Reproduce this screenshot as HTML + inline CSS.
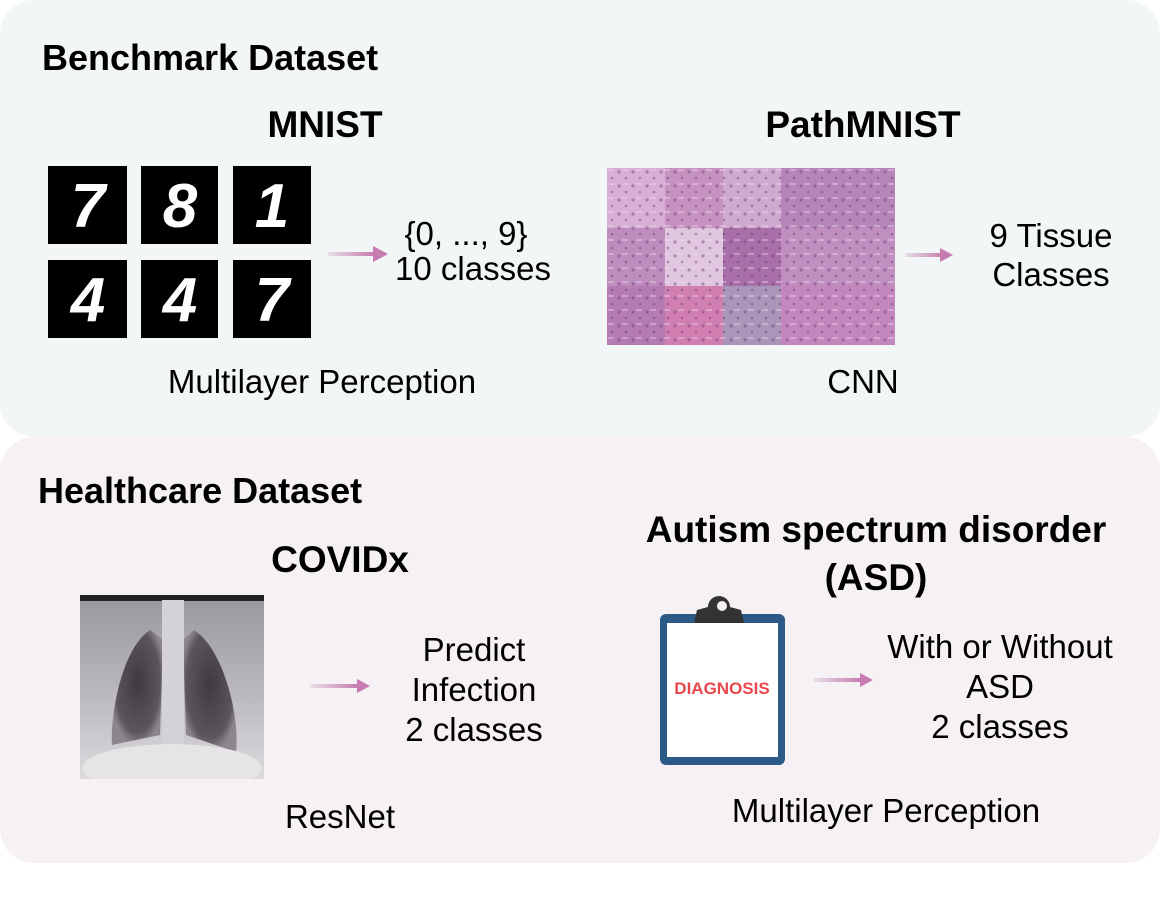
<!DOCTYPE html>
<html><head><meta charset="utf-8"><style>
body{margin:0;background:#fff;}
svg{display:block;font-family:"Liberation Sans",Arial,sans-serif;}
</style></head><body>
<svg width="1160" height="904" viewBox="0 0 1160 904">
<defs>
<linearGradient id="arr" x1="0" x2="1"><stop offset="0" stop-color="#e8e0e6"/><stop offset="1" stop-color="#c77bb0"/></linearGradient>
<radialGradient id="lung" cx="0.5" cy="0.45" r="0.55"><stop offset="0" stop-color="#3e3a40"/><stop offset="0.8" stop-color="#5a565c"/><stop offset="1" stop-color="#8a868c"/></radialGradient>
<linearGradient id="xbg" x1="0" x2="0" y1="0" y2="1"><stop offset="0" stop-color="#9a979c"/><stop offset="0.5" stop-color="#b8b6ba"/><stop offset="1" stop-color="#dcdadd"/></linearGradient>
<pattern id="tex" width="14" height="14" patternUnits="userSpaceOnUse"><circle cx="3" cy="4" r="1.6" fill="#6b3d7a" opacity="0.45"/><circle cx="10" cy="10" r="1.3" fill="#5a2f6a" opacity="0.4"/><rect x="6" y="1" width="6" height="2" fill="#f0dcef" opacity="0.4"/></pattern>
<clipPath id="xclip"><rect x="80" y="595" width="184" height="184"/></clipPath>
</defs>
<rect x="0" y="0" width="1160" height="437" rx="34" fill="#f2f6f7"/>
<rect x="0" y="437" width="1160" height="426" rx="34" fill="#f6f1f5"/>

<text x="42" y="70" font-size="36" font-weight="bold" fill="#000">Benchmark Dataset</text>
<text x="325" y="137" font-size="37" font-weight="bold" text-anchor="middle">MNIST</text>
<text x="863" y="137" font-size="37" font-weight="bold" text-anchor="middle">PathMNIST</text>

<g font-weight="bold" fill="#fff" font-size="62" text-anchor="middle" font-style="italic">
<rect x="48" y="166" width="79" height="78" fill="#000"/><text x="88" y="227">7</text>
<rect x="141" y="166" width="77" height="78" fill="#000"/><text x="180" y="227">8</text>
<rect x="233" y="166" width="78" height="78" fill="#000"/><text x="272" y="227">1</text>
<rect x="48" y="260" width="79" height="78" fill="#000"/><text x="88" y="321">4</text>
<rect x="141" y="260" width="77" height="78" fill="#000"/><text x="180" y="321">4</text>
<rect x="233" y="260" width="78" height="78" fill="#000"/><text x="272" y="321">7</text>
</g>
<g><rect x="328" y="252" width="46" height="4" fill="url(#arr)"/><polygon points="373,246 388,254 373,262" fill="#c77bb0"/></g>
<text x="466" y="245" font-size="33" text-anchor="middle">{0, ..., 9}</text>
<text x="473" y="280" font-size="33" text-anchor="middle">10 classes</text>
<text x="322" y="393" font-size="33" text-anchor="middle">Multilayer Perception</text>

<g>
<rect x="607" y="168" width="288" height="177" fill="#c99ac4"/>
<rect x="607" y="168" width="58" height="60" fill="#d7aed4"/><rect x="665" y="168" width="58" height="60" fill="#c692c0"/><rect x="723" y="168" width="58" height="60" fill="#cfa9cf"/><rect x="781" y="168" width="114" height="60" fill="#b685b8"/>
<rect x="607" y="228" width="58" height="58" fill="#be8cbd"/><rect x="665" y="228" width="58" height="58" fill="#e0c6de"/><rect x="723" y="228" width="58" height="58" fill="#a86fa8"/><rect x="781" y="228" width="114" height="58" fill="#c08fc0"/>
<rect x="607" y="286" width="58" height="59" fill="#b47cb2"/><rect x="665" y="286" width="58" height="59" fill="#d17fb0"/><rect x="723" y="286" width="58" height="59" fill="#a996b8"/><rect x="781" y="286" width="114" height="59" fill="#c487bd"/>
<rect x="607" y="168" width="288" height="177" fill="url(#tex)"/>
</g>
<g><rect x="905" y="253" width="38" height="4" fill="url(#arr)"/><polygon points="940,248 953,255 940,262" fill="#c77bb0"/></g>
<text x="1051" y="247" font-size="33" text-anchor="middle">9 Tissue</text>
<text x="1051" y="286" font-size="33" text-anchor="middle">Classes</text>
<text x="863" y="393" font-size="33" text-anchor="middle">CNN</text>

<text x="38" y="503" font-size="36" font-weight="bold">Healthcare Dataset</text>
<text x="340" y="572" font-size="37" font-weight="bold" text-anchor="middle">COVIDx</text>
<g clip-path="url(#xclip)">
<rect x="80" y="595" width="184" height="184" fill="url(#xbg)"/>
<rect x="80" y="595" width="184" height="6" fill="#222"/>
<path d="M150,630 C120,650 110,720 112,745 L160,735 L163,640 Z" fill="url(#lung)"/>
<path d="M194,630 C225,650 240,720 236,752 L186,735 L183,640 Z" fill="url(#lung)"/>
<rect x="162" y="600" width="22" height="180" fill="#d4d2d6"/>
<ellipse cx="172" cy="768" rx="90" ry="24" fill="#e6e4e7"/>
</g>
<g><rect x="310" y="684" width="48" height="4" fill="url(#arr)"/><polygon points="357,679 370,686 357,693" fill="#c77bb0"/></g>
<text x="474" y="661" font-size="33" text-anchor="middle">Predict</text>
<text x="474" y="701" font-size="33" text-anchor="middle">Infection</text>
<text x="474" y="741" font-size="33" text-anchor="middle">2 classes</text>
<text x="340" y="828" font-size="33" text-anchor="middle">ResNet</text>

<text x="876" y="542" font-size="37" font-weight="bold" text-anchor="middle">Autism spectrum disorder</text>
<text x="876" y="590" font-size="37" font-weight="bold" text-anchor="middle">(ASD)</text>
<g>
<rect x="660" y="614" width="125" height="151" rx="6" fill="#2a5a85"/>
<rect x="667" y="623" width="111" height="134" fill="#fff"/>
<path d="M694,623 L697,610 L708,607 a11,11 0 0 1 22,0 L741,610 L744,623 Z" fill="#333"/>
<circle cx="722" cy="606" r="5" fill="#f6f1f5"/>
<text x="722" y="694" font-size="17" font-weight="bold" fill="#e8474c" text-anchor="middle">DIAGNOSIS</text>
</g>
<g><rect x="813" y="678" width="48" height="4" fill="url(#arr)"/><polygon points="860,673 873,680 860,687" fill="#c77bb0"/></g>
<text x="1000" y="658" font-size="33" text-anchor="middle">With or Without</text>
<text x="1000" y="698" font-size="33" text-anchor="middle">ASD</text>
<text x="1000" y="738" font-size="33" text-anchor="middle">2 classes</text>
<text x="886" y="822" font-size="33" text-anchor="middle">Multilayer Perception</text>
</svg>
</body></html>
